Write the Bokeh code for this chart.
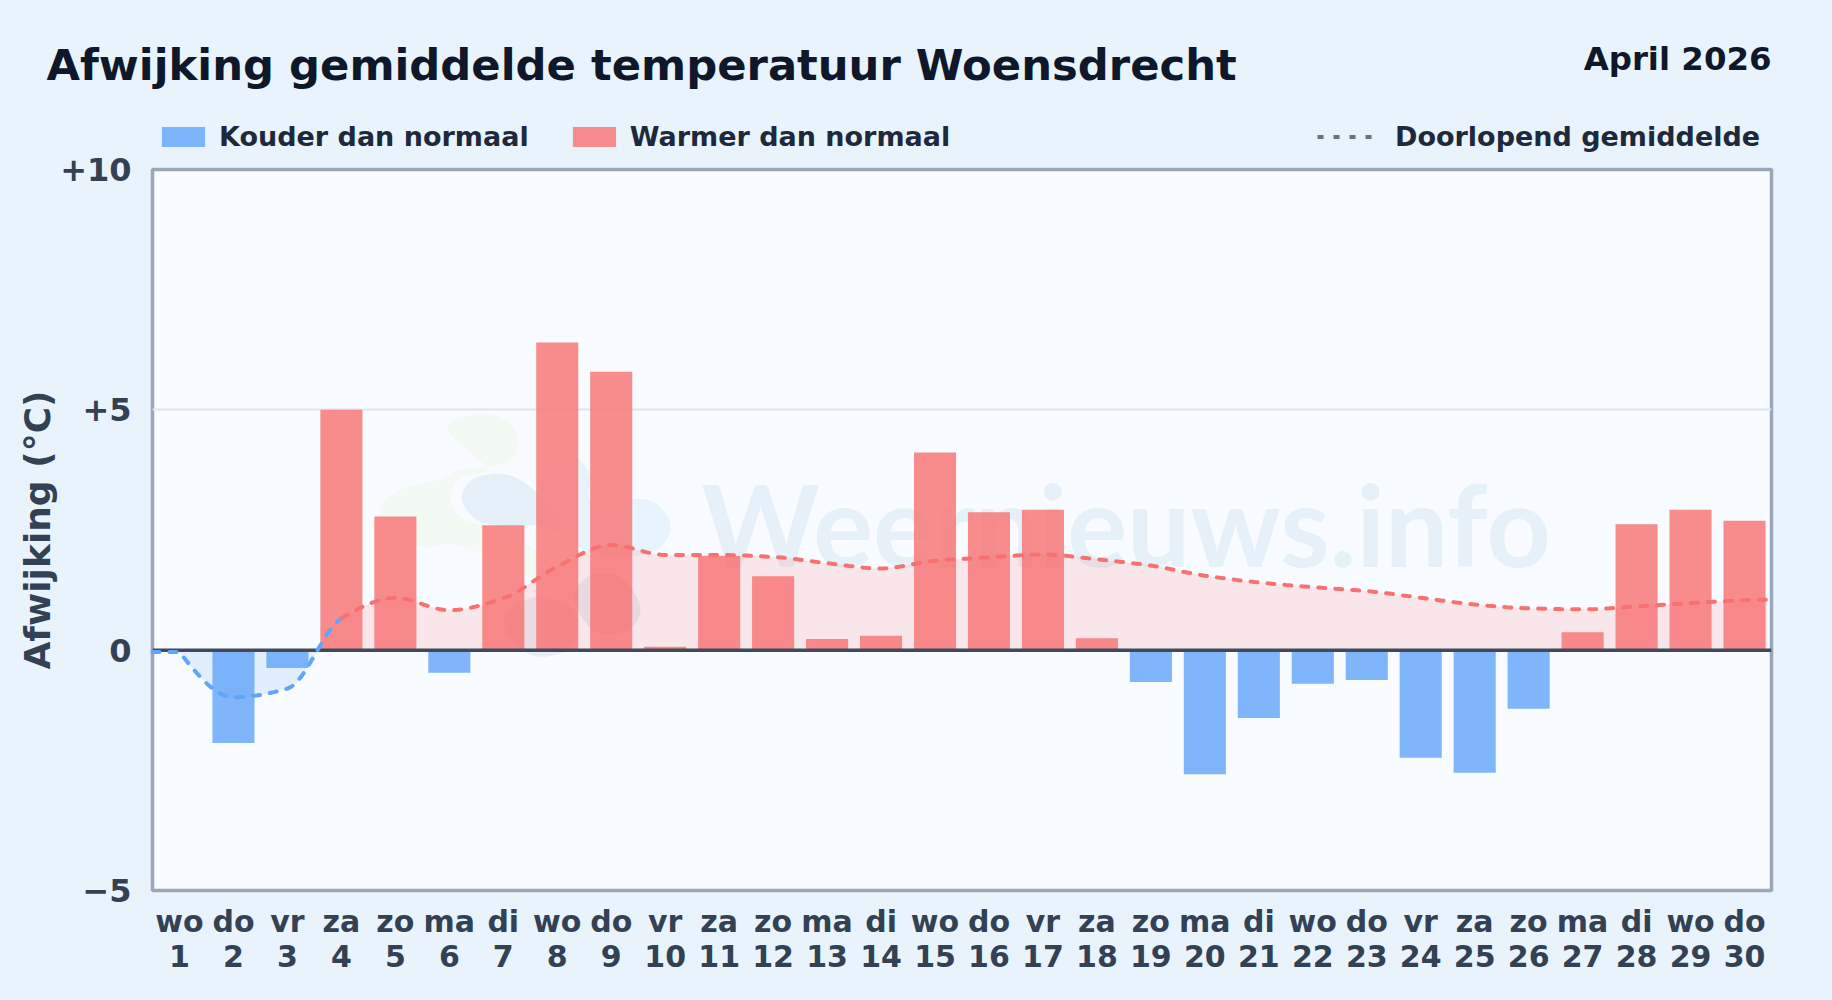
from bokeh.plotting import figure
from bokeh.embed import file_html
from bokeh.resources import INLINE
from bokeh.layouts import column
from bokeh.models import (Range1d, FixedTicker, Label, Legend, LegendItem, Span)
import numpy as np

# ---- data ----
days = list(range(1, 31))
weekdays = ["wo","do","vr","za","zo","ma","di","wo","do","vr","za","zo","ma","di","wo",
            "do","vr","za","zo","ma","di","wo","do","vr","za","zo","ma","di","wo","do"]
deviation = [-0.04,-1.93,-0.37,5.0,2.78,-0.47,2.6,6.4,5.79,0.07,1.96,1.54,0.23,0.3,4.11,
             2.87,2.92,0.25,-0.66,-2.58,-1.41,-0.7,-0.62,-2.24,-2.55,-1.22,0.375,2.62,2.92,2.69]
running_mean = [-0.04,-0.98,-0.8,0.66,1.09,0.83,1.08,1.74,2.19,1.98,1.98,1.94,1.81,1.7,1.86,
                1.93,1.99,1.89,1.76,1.55,1.41,1.31,1.23,1.09,0.95,0.87,0.85,0.91,0.98,1.04]
mean_start = (0.5, -0.04)
mean_end = (30.42, 1.05)
y_ticks = [-5, 0, 5, 10]
y_tick_labels = {-5: "\u22125", 0: "0", 5: "+5", 10: "+10"}
TITLE = "Afwijking gemiddelde temperatuur Woensdrecht"
MONTH = "April 2026"

# ---- page geometry (pixels) ----
W, H = 1832, 1000
HEAD = 154
OVERLAP = 8
L, R, T, B = 152, 1771, 169, 890
BG = "#e8f3fc"
TICK = "#334155"
FONT = "DejaVu Sans"

def X(px):
    return 0.5 + (px - L) / ((R - L) / 30)

def Y(py):
    return 10 - (py - T) / ((B - T) / 15)


def monotone(xs, ys, n=12):
    """Draw the read values as a smooth monotone curve."""
    xs, ys = np.array(xs, float), np.array(ys, float)
    h = np.diff(xs)
    s = np.diff(ys) / h
    m = np.zeros_like(ys)
    for i in range(1, len(xs) - 1):
        if s[i - 1] * s[i] > 0:
            w1, w2 = 2 * h[i] + h[i - 1], h[i] + 2 * h[i - 1]
            m[i] = (w1 + w2) / (w1 / s[i - 1] + w2 / s[i])
    m[0] = (3 * s[0] - m[1]) / 2
    m[-1] = (3 * s[-1] - m[-2]) / 2
    ox, oy = [], []
    for i in range(len(h)):
        t = np.linspace(0, 1, n, endpoint=False)
        a = (2*t**3 - 3*t**2 + 1)*ys[i] + (t**3 - 2*t**2 + t)*h[i]*m[i]
        b = (-2*t**3 + 3*t**2)*ys[i+1] + (t**3 - t**2)*h[i]*m[i+1]
        ox.extend(xs[i] + t*h[i]); oy.extend(a + b)
    ox.append(xs[-1]); oy.append(ys[-1])
    return np.array(ox), np.array(oy)


def blob(pts, n=10):
    """Closed smooth outline through pixel points (watermark decoration)."""
    p = np.array(pts, float)
    out = []
    for i in range(len(p)):
        p0, p1, p2, p3 = p[i-1], p[i], p[(i+1) % len(p)], p[(i+2) % len(p)]
        for t in np.linspace(0, 1, n, endpoint=False):
            out.append(0.5*((2*p1) + (-p0+p2)*t + (2*p0-5*p1+4*p2-p3)*t**2 + (-p0+3*p1-3*p2+p3)*t**3))
    out = np.array(out)
    return X(360 + out[:, 0] / 3), Y(390 + out[:, 1] / 3)


# ---- header strip: title, month, legends ----
head = figure(width=W, height=HEAD, output_backend="svg", toolbar_location=None,
              x_range=Range1d(0, W), y_range=Range1d(HEAD, 0),
              min_border=0, background_fill_color=BG, border_fill_color=BG)
head.frame_align = False
head.outline_line_color = None
head.axis.visible = False
head.grid.visible = False
head.add_layout(Label(x=46, y=64, text=TITLE, text_font=FONT, text_font_style="bold",
                      text_font_size="43.3px", text_color="#0f172a", text_baseline="alphabetic"))
head.add_layout(Label(x=1771, y=58.5, text=MONTH, text_font=FONT, text_font_style="bold",
                      text_font_size="32.4px", text_color="#0f172a", text_baseline="alphabetic", text_align="right"))
# legend keys: renderers that lie outside the visible range, only their key is seen
key_cold = head.vbar(x=[-99], top=[-99], bottom=-100, width=1, fill_color="#60a5fa", fill_alpha=0.8, line_alpha=0)
key_warm = head.vbar(x=[-99], top=[-99], bottom=-100, width=1, fill_color="#f87171", fill_alpha=0.8, line_alpha=0)
key_line = head.line([-99, -98], [-99, -99], line_color="#6b7280", line_width=4, line_dash="6 10")
for items, px, gw, gh, so in (([LegendItem(label="Kouder dan normaal", renderers=[key_cold]),
                                LegendItem(label="Warmer dan normaal", renderers=[key_warm])], 156, 54, 25, 9),
                              ([LegendItem(label="Doorlopend gemiddelde", renderers=[key_line])], 1317, 56, 25, 22)):
    head.add_layout(Legend(items=items, orientation="horizontal", location=(px, 2),
                           padding=0, margin=0, spacing=38, label_standoff=so,
                           glyph_width=gw, glyph_height=gh,
                           label_text_font=FONT, label_text_font_style="bold",
                           label_text_font_size="27px", label_text_color="#1e293b",
                           background_fill_alpha=0, border_line_color=None))

# ---- main chart ----
p = figure(width=W, height=H - HEAD + OVERLAP, output_backend="svg", toolbar_location=None,
           x_range=Range1d(0.5, 30.5), y_range=Range1d(-5, 10),
           min_border_left=L, min_border_right=W-R, min_border_top=T-HEAD+OVERLAP, min_border_bottom=H-B,
           background_fill_color="#f8fbff", border_fill_alpha=0, margin=(-OVERLAP, 0, 0, 0))
p.frame_align = False
p.outline_line_color = "#9aa7ba"
p.outline_line_width = 3.5
p.xgrid.visible = False
p.ygrid.ticker = FixedTicker(ticks=[5])
p.ygrid.grid_line_color = "#dde5ed"
p.ygrid.grid_line_width = 2

# watermark logo and text
p.patch(*blob([(265,125),(300,85),(380,70),(450,100),(472,160),(450,210),(380,230),(300,238),(230,270),
               (130,295),(70,330),(60,370),(100,420),(190,470),(260,460),(340,480),(420,510),(525,560),
               (525,480),(400,420),(300,380),(270,320),(300,260),(380,235)]),
        fill_color="#f3f9f3", line_alpha=0)
p.patch(*blob([(570,200),(650,205),(690,260),(690,330),(800,325),(880,335),(930,400),(900,470),(800,500),
               (680,480),(600,420),(540,300)]), fill_color="#e8f4fd", line_alpha=0)
p.patch(*blob([(305,310),(340,265),(420,250),(490,275),(560,340),(600,420),(520,405),(380,400),(320,360)]),
        fill_color="#e5eff8", line_alpha=0)
p.patch(*blob([(640,620),(690,555),(780,560),(840,650),(800,720),(700,720)]), fill_color="#e6ecf5", line_alpha=0)
p.patch(*blob([(430,690),(520,620),(640,660),(640,760),(560,798),(490,780)]), fill_color="#e8eef6", line_alpha=0)
p.text(x=[X(701)], y=[Y(523)], text=["Weernieuws.info"], text_font={"value": "Lato"},
       text_font_style="bold", text_font_size="112.5px", text_color="#e6f0f9",
       text_baseline="alphabetic", text_align="left")

# bars
pos_d = [d for d, v in zip(days, deviation) if v >= 0]
pos_v = [v for v in deviation if v >= 0]
neg_d = [d for d, v in zip(days, deviation) if v < 0]
neg_v = [v for v in deviation if v < 0]
p.vbar(x=neg_d, top=neg_v, bottom=0, width=0.78, fill_color="#60a5fa", fill_alpha=0.8, line_alpha=0)
p.vbar(x=pos_d, top=pos_v, bottom=0, width=0.78, fill_color="#f87171", fill_alpha=0.8, line_alpha=0)

# running mean
sx, sy = monotone(days, running_mean)
cx = np.concatenate(([mean_start[0]], sx, [mean_end[0]]))
cy = np.concatenate(([mean_start[1]], sy, [mean_end[1]]))
p.varea(x=cx, y1=0, y2=np.maximum(cy, 0), fill_color="#f87171", fill_alpha=0.15)
p.varea(x=cx, y1=0, y2=np.minimum(cy, 0), fill_color="#60a5fa", fill_alpha=0.15)
split = np.searchsorted(cx, days[3])

p.add_layout(Span(location=0, dimension="width", line_color="#3f4a5c", line_width=3.5))

p.line(cx[:split+1], cy[:split+1], line_color="#60a5fa", line_width=4, line_dash="7 10",
       line_cap="round", level="overlay")
p.line(cx[split:], cy[split:], line_color="#f87171", line_width=4, line_dash="7 10",
       line_cap="round", level="overlay")

# axes
xa = p.xaxis[0]
xa.ticker = FixedTicker(ticks=days)
xa.major_label_overrides = {d: f"{w}\n{d}" for d, w in zip(days, weekdays)}
xa.major_label_text_font = FONT
xa.major_label_text_font_style = "bold"
xa.major_label_text_font_size = "30px"
xa.major_label_text_color = TICK
xa.major_label_text_line_height = 1.0
xa.major_label_standoff = 7
xa.axis_line_color = None
xa.major_tick_line_color = None
xa.minor_tick_line_color = None

ya = p.yaxis[0]
ya.ticker = FixedTicker(ticks=y_ticks)
ya.major_label_overrides = y_tick_labels
ya.major_label_text_font = FONT
ya.major_label_text_font_style = "bold"
ya.major_label_text_font_size = "32px"
ya.major_label_text_color = TICK
ya.major_label_standoff = 15
ya.axis_line_color = None
ya.major_tick_line_color = None
ya.minor_tick_line_color = None
ya.axis_label = "Afwijking (\u00b0C)"
ya.axis_label_text_font = FONT
ya.axis_label_text_font_style = "bold"
ya.axis_label_text_font_size = "36px"
ya.axis_label_text_color = TICK
ya.axis_label_standoff = -1

layout = column(head, p, spacing=0)
html = file_html(layout, INLINE)
html = html.replace("</head>", f"<style>html,body{{margin:0;padding:0;background:{BG};overflow:hidden}}</style></head>", 1)
open("out.html", "w").write(html)
